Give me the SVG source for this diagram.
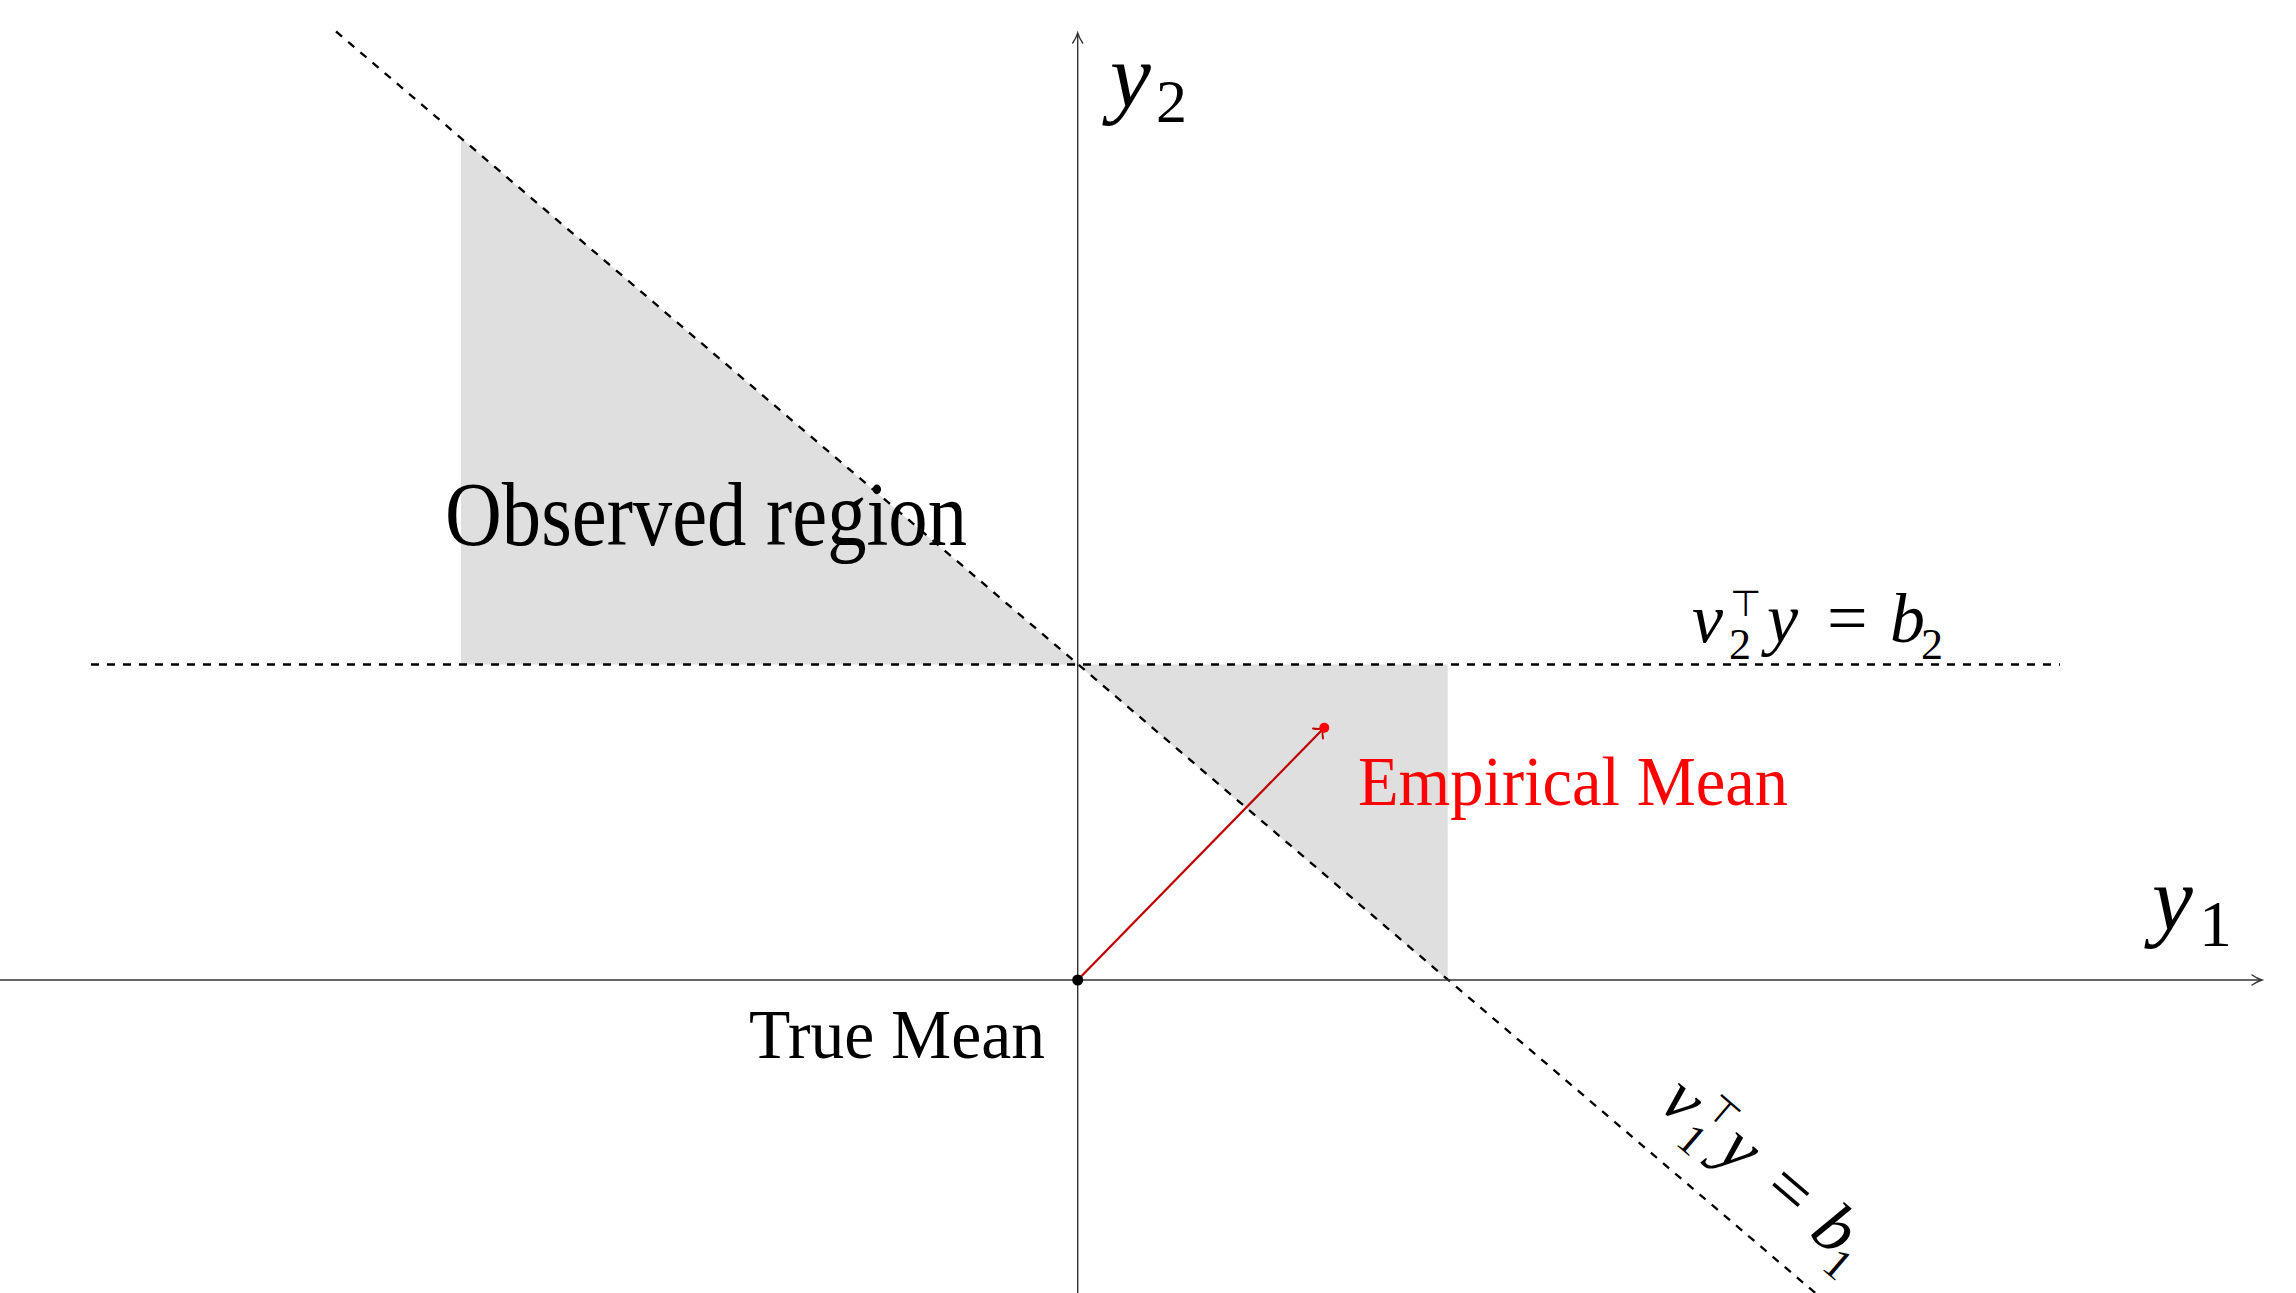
<svg xmlns="http://www.w3.org/2000/svg" width="2296" height="1293" viewBox="0 0 2296 1293">
<style>
.shade{fill:#dfdfdf;stroke:none}
.dash{fill:none;stroke:#000;stroke-width:2.3;stroke-dasharray:8 8}
.axis{fill:none;stroke:#333;stroke-width:1.4}
.tip{fill:none;stroke:#333;stroke-width:1.4;stroke-linecap:round}
.rm{font-family:"Liberation Serif","Times New Roman",serif;fill:#000}
.it{font-family:"Liberation Serif","Times New Roman",serif;font-style:italic;fill:#000}
.sym{font-family:"DejaVu Sans",sans-serif;fill:#000}
</style>
<rect width="2296" height="1293" fill="#fff"/>
<g id="regions">
<polygon id="observed-left" class="shade" points="461,138 461,664.5 1077.7,664.5"/>
<polygon id="observed-right" class="shade" points="1077.7,664.5 1447.7,664.5 1447.7,980"/>
</g>
<g id="connectors">
<line id="line-v2" class="dash" x1="91" y1="664.5" x2="2060" y2="664.5"/>
<line id="line-v1" class="dash" x1="336" y1="31.5" x2="1820" y2="1297"/>
<line id="axis-y1" class="axis" x1="0" y1="980" x2="2261" y2="980"/>
<path class="tip" d="M2252,975 Q2257,978.5 2262,980 Q2257,981.5 2252,985"/>
<line id="axis-y2" class="axis" x1="1077.7" y1="1293" x2="1077.7" y2="34"/>
<path class="tip" d="M1072.7,43 Q1076.2,38 1077.7,33 Q1079.2,38 1082.7,43"/>
<line id="mean-shift" x1="1077.7" y1="980" x2="1322" y2="730" stroke="#c00000" stroke-width="2.2"/>
<path d="M1313,728.5 Q1318,729.5 1323,728.5 Q1322,733.5 1323,738.5" fill="none" stroke="#c00000" stroke-width="2" stroke-linecap="round"/>
</g>
<g id="true-mean">
<circle cx="1077.7" cy="980" r="5.5" fill="#000"/>
<text class="rm" x="749" y="1058" font-size="70" textLength="296" lengthAdjust="spacingAndGlyphs">True Mean</text>
</g>
<g id="empirical-mean">
<circle cx="1324.3" cy="727.7" r="5" fill="#ff0000"/>
<text class="rm" x="1358" y="805" font-size="70" textLength="430" lengthAdjust="spacingAndGlyphs" style="fill:#ff0000">Empirical Mean</text>
</g>
<g id="observed-label">
<text class="rm" x="445" y="545" font-size="90" textLength="522" lengthAdjust="spacingAndGlyphs">Observed region</text>
</g>
<g id="label-y2">
<text class="it" x="1110" y="107" font-size="92">y</text>
<text class="rm" x="1156" y="122" font-size="62">2</text>
</g>
<g id="label-y1">
<text class="it" x="2152" y="930" font-size="92">y</text>
<text class="rm" x="2199" y="946" font-size="66">1</text>
</g>
<g id="label-v2">
<text class="it" x="1692" y="642" font-size="70">v</text>
<text class="rm" x="1729" y="659" font-size="44">2</text>
<text class="sym" x="1730" y="616" font-size="36">⊤</text>
<text class="it" x="1767" y="642" font-size="70">y</text>
<text class="rm" x="1827" y="642" font-size="72">=</text>
<text class="it" x="1890" y="642" font-size="70">b</text>
<text class="rm" x="1921" y="659" font-size="44">2</text>
</g>
<g id="label-v1" transform="translate(1659.5,1108.4) rotate(40.5)">
<text class="it" x="-3" y="0" font-size="70">v</text>
<text class="rm" x="34" y="17" font-size="44">1</text>
<text class="sym" x="35" y="-26" font-size="36">⊤</text>
<text class="it" x="72" y="0" font-size="70">y</text>
<text class="rm" x="132" y="0" font-size="72">=</text>
<text class="it" x="195" y="0" font-size="70">b</text>
<text class="rm" x="226" y="17" font-size="44">1</text>
</g>
</svg>
